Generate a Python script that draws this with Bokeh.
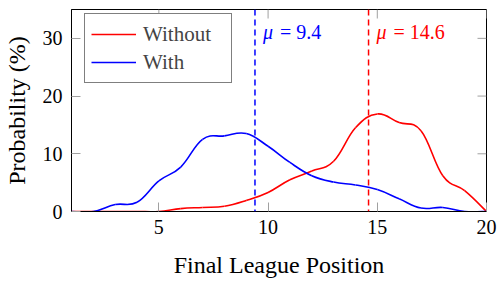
import numpy as np
from bokeh.plotting import figure
from bokeh.models import Range1d, Span, Label, Legend, LegendItem, FixedTicker, ColumnDataSource
from bokeh.embed import file_html
from bokeh.resources import INLINE

# ---- data ----
positions = list(range(1, 21))
without_vals = [0, 0, 0, 0, 0, 0.5, 0.7, 0.9, 1.9, 3.3, 5.5, 7.0, 8.7, 14.5, 16.9, 15.4, 14.0, 6.2, 3.6, 0]
with_vals = [0, 0, 1.2, 1.6, 5.3, 7.7, 12.5, 13.1, 13.5, 11.3, 8.5, 6.2, 5.1, 4.6, 3.8, 2.2, 0.6, 0.7, 0, 0]
series_names = ["Without", "With"]
series_colors = ["#ff0000", "#0000ff"]
mean_values = [14.6, 9.4]
x_ticks = [5, 10, 15, 20]
y_ticks = [0, 10, 20, 30]

FONT = "Liberation Serif"
TENSION = 0.2
TICK_GREY = "#a0a0a0"

W, H = 497, 281
BL, BR, BT, BB = 71, 11, 9, 70
FRAME_W, FRAME_H = W - BL - BR, H - BT - BB
TICK_LEN = 9

x0r, x1r = 1, 20
y0r, y1r = 0, 35


def smooth_segments(xs, ys, t=TENSION):
    xs = np.asarray(xs, float)
    ys = np.asarray(ys, float)
    n = len(xs)
    xp = np.concatenate([[xs[0]], xs, [xs[-1]]])
    yp = np.concatenate([[ys[0]], ys, [ys[-1]]])
    d = dict(x0=[], y0=[], x1=[], y1=[], cx0=[], cy0=[], cx1=[], cy1=[])
    for i in range(n - 1):
        j = i + 1
        d["x0"].append(xp[j]); d["y0"].append(yp[j])
        d["x1"].append(xp[j + 1]); d["y1"].append(yp[j + 1])
        d["cx0"].append(xp[j] + t * (xp[j + 1] - xp[j - 1]))
        d["cy0"].append(yp[j] + t * (yp[j + 1] - yp[j - 1]))
        d["cx1"].append(xp[j + 1] - t * (xp[j + 2] - xp[j]))
        d["cy1"].append(yp[j + 1] - t * (yp[j + 2] - yp[j]))
    return ColumnDataSource(d)


p = figure(width=W, height=H, output_backend="svg", toolbar_location=None,
           x_range=Range1d(x0r, x1r), y_range=Range1d(y0r, y1r),
           min_border_left=BL, min_border_right=BR, min_border_top=BT, min_border_bottom=BB)
p.grid.visible = False
p.outline_line_color = "black"
p.outline_line_width = 1
p.background_fill_color = "white"
p.border_fill_color = "white"

for ax in (p.xaxis[0], p.yaxis[0]):
    ax.major_label_text_font = FONT
    ax.major_label_text_font_size = "20px"
    ax.major_label_text_color = "black"
    ax.axis_label_text_font = FONT
    ax.axis_label_text_font_size = "24px"
    ax.axis_label_text_font_style = "normal"
    ax.axis_label_text_color = "black"
    ax.major_tick_in = TICK_LEN
    ax.major_tick_out = 0
    ax.major_tick_line_color = TICK_GREY
    ax.minor_tick_line_color = None
    ax.axis_line_color = "black"

p.xaxis[0].ticker = FixedTicker(ticks=x_ticks)
p.yaxis[0].ticker = FixedTicker(ticks=y_ticks)
p.xaxis[0].axis_label = "Final League Position"
p.yaxis[0].axis_label = "Probability (%)"
p.xaxis[0].major_label_standoff = 8
p.xaxis[0].axis_label_standoff = 15
p.yaxis[0].major_label_standoff = 9
p.yaxis[0].axis_label_standoff = 10

# mirrored ticks on the top and right frame edges
dy = TICK_LEN * (y1r - y0r) / FRAME_H
dx = TICK_LEN * (x1r - x0r) / FRAME_W
p.segment(x0=x_ticks, y0=[y1r] * len(x_ticks), x1=x_ticks, y1=[y1r - dy] * len(x_ticks),
          line_color=TICK_GREY, line_width=1)
p.segment(x0=[x1r] * len(y_ticks), y0=y_ticks, x1=[x1r - dx] * len(y_ticks), y1=y_ticks,
          line_color=TICK_GREY, line_width=1)

legend_items = []
for name, vals, col in zip(series_names, [without_vals, with_vals], series_colors):
    src = smooth_segments(positions, vals)
    p.bezier(x0="x0", y0="y0", x1="x1", y1="y1", cx0="cx0", cy0="cy0", cx1="cx1", cy1="cy1",
             source=src, line_color=col, line_width=1.6)
    dummy = p.line(x=[float("nan")], y=[float("nan")], line_color=col, line_width=1.6)
    legend_items.append(LegendItem(label=name, renderers=[dummy]))

label_y = y1r - 22.7 * (y1r - y0r) / FRAME_H
for m, col in zip(mean_values, series_colors):
    p.add_layout(Span(location=m, dimension="height", line_color=col, line_width=1.5,
                      line_dash="6 4"))
    p.add_layout(Label(x=m, y=label_y, x_offset=8, text="μ", text_font=FONT,
                       text_font_style="italic", text_font_size="20px", text_color=col,
                       text_baseline="alphabetic"))
    p.add_layout(Label(x=m, y=label_y, x_offset=25, text="= %.1f" % m, text_font=FONT,
                       text_font_size="20px", text_color=col, text_baseline="alphabetic"))

legend = Legend(items=legend_items, location=(13, FRAME_H - 6 - 68), margin=0,
                label_text_font=FONT, label_text_font_size="21px",
                glyph_width=45, glyph_height=28, label_height=28, label_width=82,
                spacing=0, padding=6, label_standoff=7,
                border_line_color="black", border_line_width=1,
                background_fill_alpha=1)
p.add_layout(legend, "center")

open("out.html", "w").write(file_html(p, INLINE))
